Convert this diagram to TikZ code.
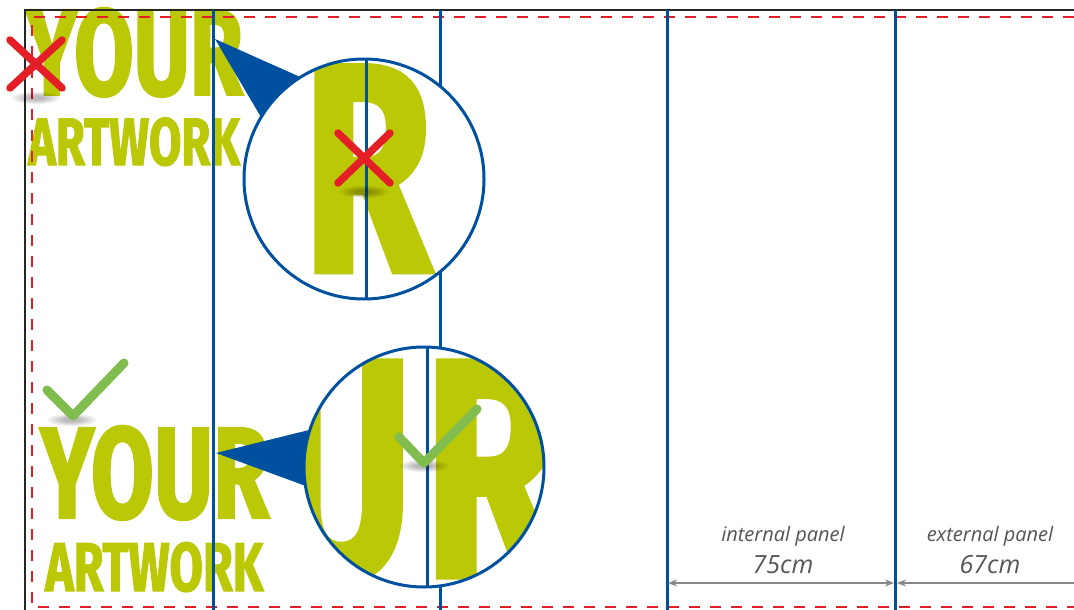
\documentclass[tikz,border=0pt]{standalone}
\usepackage{fontspec}
\usetikzlibrary{arrows.meta,positioning}
\newfontfamily\artfont[FakeStretch=0.70,FakeBold=1.6]{Fira Sans}
\newfontfamily\labelfont{Open Sans}
\definecolor{artgreen}{RGB}{187,200,6}
\definecolor{markgreen}{RGB}{129,188,79}
\definecolor{foldblue}{RGB}{0,80,160}
\definecolor{cutred}{RGB}{228,30,38}
\definecolor{dimgray}{RGB}{136,136,136}
\definecolor{labelgray}{RGB}{85,85,85}

\begin{document}
\begin{tikzpicture}[x=1pt,y=-1pt,
  art/.style={inner sep=0,anchor=base west,text=artgreen},
  fold/.style={foldblue,line width=3pt},
  cutline/.style={cutred,line width=2.2pt,dash pattern=on 11pt off 10pt},
  lens/.style={circle,minimum size=240pt,inner sep=0},
  rim/.style={foldblue,line width=3pt},
  cross/.style={cutred,line width=7.5pt,line cap=round},
  tick/.style={markgreen,line width=9pt,line cap=round,line join=round},
  dim/.style={dimgray,line width=2.6pt},
  lbl/.style={text=labelgray,inner sep=0,anchor=base}]
 \useasboundingbox (0,0) rectangle (1074,610);
 % artwork text
 \node[art,font=\artfont\bfseries\fontsize{123}{123}\selectfont] (yourTop) at (26,95) {YOUR};
 \node[art,font=\artfont\bfseries\fontsize{67}{67}\selectfont] (artTop) at (28,165) {ARTWORK};
 \node[art,font=\artfont\bfseries\fontsize{130}{130}\selectfont] (yourBot) at (40,518) {YOUR};
 \node[art,font=\artfont\bfseries\fontsize{69}{69}\selectfont] (artBot) at (45,591) {ARTWORK};
 % frame, bleed and folds
 \draw[black!85,line width=2pt] (25,610) |- (1074,10);
 \draw[cutline] (1074,17) -| (32,607) -- (1074,607);
 \foreach \x [count=\i] in {213,440,667,895} {
   \coordinate (f\i top) at (\x,10);
   \coordinate (f\i bot) at (\x,610);
   \draw[fold] (f\i top) -- (f\i bot);
 }
 % top lens (wrong)
 \node[lens] (lensTop) at (364,179) {};
 \coordinate (tipTop) at (215,39);
 \fill[foldblue] (tipTop) -- (lensTop.122) -- (lensTop.center) -- (lensTop.149) -- cycle;
 \fill[white] (lensTop.center) circle (120);
 \begin{scope}
  \clip (lensTop.center) circle (120);
  \node[art,font=\artfont\bfseries\fontsize{298}{298}\selectfont] (bigR) at (303,272) {R};
  \draw[fold] ([xshift=2pt]lensTop.north) -- ([xshift=2pt]lensTop.south);
 \end{scope}
 \draw[rim] (lensTop.center) circle (120);
 % bottom lens (right)
 \node[lens] (lensBot) at (424,467) {};
 \coordinate (tipBot) at (216,453);
 \fill[foldblue] (tipBot) -- (lensBot.162) -- (lensBot.center) -- (lensBot.189) -- cycle;
 \fill[white] (lensBot.center) circle (120);
 \begin{scope}
  \clip (lensBot.center) circle (120);
  \node[art,font=\artfont\bfseries\fontsize{312}{312}\selectfont] (bigUR) at (270,577) {U\kern12pt R};
  \draw[fold] ([xshift=3pt]lensBot.north) -- ([xshift=3pt]lensBot.south);
 \end{scope}
 \draw[rim] (lensBot.center) circle (120);
 % shadows
 \foreach \p in {(36,98),(364,192),(72,420),(424,466)}
   \foreach \s in {1,0.85,0.7,0.55,0.4}
     \fill[black,opacity=0.06] \p ellipse ({24*\s} and {6*\s});
 % marks
 \draw[cross] (10,40) -- (62,88) (10,88) -- (62,40);
 \draw[cross] (338,133) -- (390,183) (338,183) -- (390,133);
 \draw[tick] (47,390) -- (73,416) -- (124,363);
 \draw[tick] (399,437) -- (424,463) -- (477,409);
 % panel sizes
 \coordinate (d1) at (668,583);
 \coordinate (d2) at (894,583);
 \coordinate (d3) at (897,583);
 \coordinate (d4) at (1074,583);
 \draw[dim,{Stealth[length=9pt,width=7pt]}-{Stealth[length=9pt,width=7pt]}] (d1) -- (d2);
 \draw[dim,{Stealth[length=9pt,width=7pt]}-] (d3) -- (d4);
 \node[lbl,font=\labelfont\itshape\fontsize{20}{20}\selectfont] (intName) at (783,541) {internal panel};
 \node[lbl,font=\labelfont\itshape\fontsize{25}{25}\selectfont] (intSize) at (783,573) {75cm};
 \node[lbl,font=\labelfont\itshape\fontsize{20}{20}\selectfont] (extName) at (990,541) {external panel};
 \node[lbl,font=\labelfont\itshape\fontsize{25}{25}\selectfont] (extSize) at (990,573) {67cm};
\end{tikzpicture}
\end{document}
